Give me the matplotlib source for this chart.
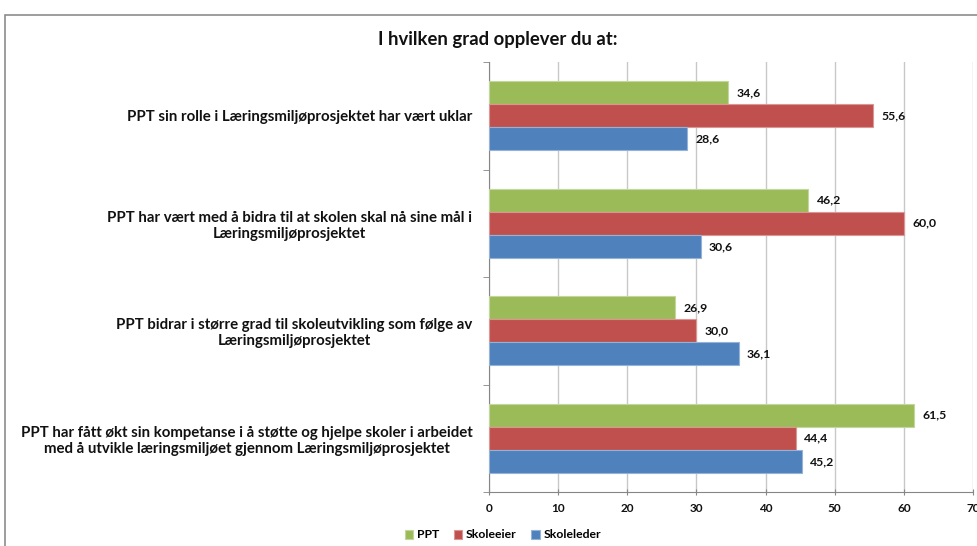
import numpy as np
import matplotlib
matplotlib.use("Agg")
import matplotlib.pyplot as plt
from matplotlib.patches import Rectangle

categories = [
    "PPT sin rolle i Læringsmiljøprosjektet har vært uklar",
    "PPT har vært med å bidra til at skolen skal nå sine mål i\nLæringsmiljøprosjektet",
    "PPT bidrar i større grad til skoleutvikling som følge av\nLæringsmiljøprosjektet",
    "PPT har fått økt sin kompetanse i å støtte og hjelpe skoler i arbeidet\nmed å utvikle læringsmiljøet gjennom Læringsmiljøprosjektet",
]
series = ["PPT", "Skoleeier", "Skoleleder"]
ppt = [34.6, 46.2, 26.9, 61.5]
skoleeier = [55.6, 60.0, 30.0, 44.4]
skoleleder = [28.6, 30.6, 36.1, 45.2]
xticks = [0, 10, 20, 30, 40, 50, 60, 70]

COLORS = ["#9bbb59", "#c0504d", "#4f81bd"]
EDGES = ["#c3d69b", "#d99694", "#95b3d7"]
INK = "#111111"
GRID = "#c8c8c8"
FONT = "Lato"

plt.rcParams["font.family"] = [FONT, "DejaVu Sans"]

fig = plt.figure(figsize=(9.77, 5.46), dpi=100, facecolor="white")
# chart frame (cropped on right/bottom in the reference)
fig.patches.append(Rectangle((5 / 977, -0.1), 1.2, (546 - 15) / 546 + 0.1,
                             transform=fig.transFigure, fill=False,
                             edgecolor="#8c8c8c", lw=1.2))

ax = fig.add_axes([489 / 977, 54 / 546, (973 - 489) / 977, (492 - 62) / 546])

n = len(categories)
ypos = np.arange(n)[::-1].astype(float)   # first category on top
h = 0.215
for k, vals in enumerate([ppt, skoleeier, skoleleder]):
    y = ypos + (1 - k) * h
    ax.barh(y, vals, height=h, color=COLORS[k], edgecolor=EDGES[k],
            lw=0.8, label=series[k], zorder=3)
    for yy, v in zip(y, vals):
        ax.annotate(f"{v:.1f}".replace(".", ","), (v, yy), xytext=(6, 0),
                    textcoords="offset points", va="center", ha="left",
                    fontsize=8.8, fontweight="bold", color=INK)

ax.set_xlim(0, 70)
ax.set_ylim(-0.5, n - 0.5)
ax.set_xticks(xticks)
ax.set_xticklabels([str(t) for t in xticks], fontsize=8.5, fontweight="bold",
                   color=INK)
ax.set_yticks(ypos)
ax.set_yticklabels(categories, fontsize=10.8, fontweight="bold", color=INK,
                   multialignment="center")
ax.set_yticks(np.arange(n + 1) - 0.5, minor=True)
ax.tick_params(axis="y", which="major", length=0, pad=12)
ax.tick_params(axis="y", which="minor", length=4, color="#868686")
ax.tick_params(axis="x", length=4, color="#868686", direction="inout", pad=6)
ax.grid(axis="x", color=GRID, lw=1.0, zorder=0)
for side in ("top", "right"):
    ax.spines[side].set_visible(False)
for side in ("left", "bottom"):
    ax.spines[side].set_color("#868686")

fig.text(498 / 977, 1 - 40 / 546, "I hvilken grad opplever du at:",
         ha="center", va="center", fontsize=13.3, fontweight="bold", color=INK)

fig.legend(*ax.get_legend_handles_labels(), loc="center",
           bbox_to_anchor=(503 / 977, 1 - 535 / 546), ncol=3, frameon=False,
           prop={"weight": "bold", "size": 8.8},
           handlelength=0.7, handleheight=0.7, handletextpad=0.3,
           columnspacing=1.2)

fig.savefig("out.png", dpi=100, facecolor="white")
